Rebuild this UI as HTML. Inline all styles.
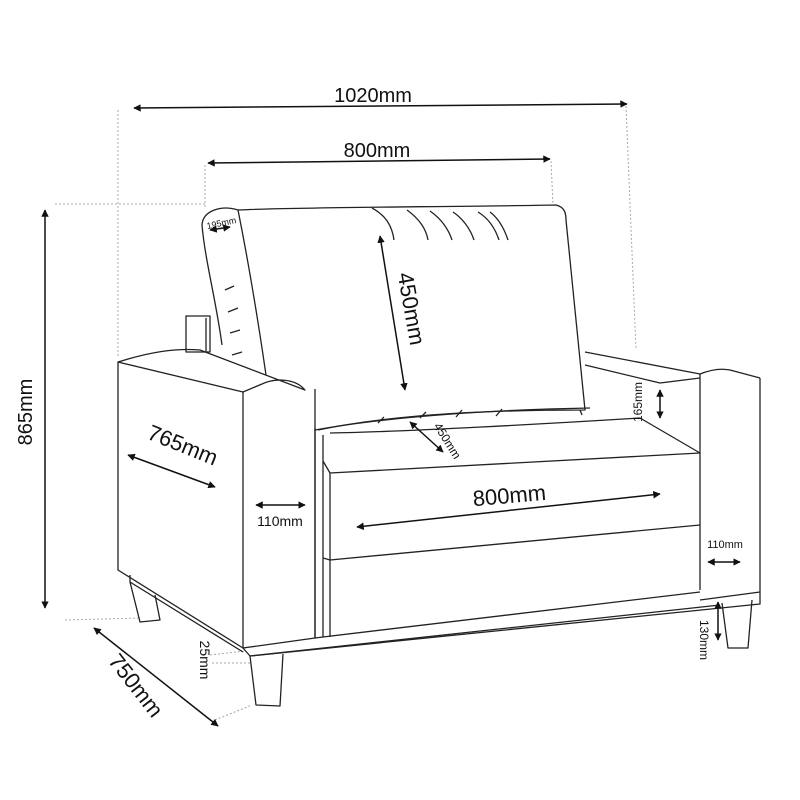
<!DOCTYPE html>
<html><head><meta charset="utf-8"><style>
html,body{margin:0;padding:0;background:#fff;}
svg{display:block}
text{font-family:"Liberation Sans",sans-serif;fill:#111}
</style></head><body>
<svg width="800" height="800" viewBox="0 0 800 800" xmlns="http://www.w3.org/2000/svg">
<defs>
<marker id="a" viewBox="0 0 10 10" refX="9" refY="5" markerWidth="5" markerHeight="5" orient="auto-start-reverse"><path d="M0,0 L10,5 L0,10 z" fill="#111"/></marker>
</defs>
<g fill="none" stroke="#aaa" stroke-width="1" stroke-dasharray="2,2">
<line x1="118" y1="110" x2="118" y2="358"/>
<line x1="626" y1="106" x2="636" y2="350"/>
<line x1="205" y1="165" x2="205" y2="208"/>
<line x1="551" y1="161" x2="553" y2="205"/>
<line x1="55" y1="204" x2="205" y2="204"/>
<line x1="65" y1="620" x2="140" y2="618"/>
<line x1="210" y1="655" x2="245" y2="651"/>
<line x1="212" y1="663" x2="250" y2="663"/>
<line x1="215" y1="720" x2="252" y2="705"/>
</g>
<g fill="none" stroke="#222" stroke-width="1.3" stroke-linejoin="round">
<path d="M222,345 C216,300 205,260 202,225 C203,210 222,205 238,210 C248,260 258,320 266,375"/>
<path d="M225,290 L234,286 M228,312 L238,308 M230,333 L240,330 M232,355 L242,352"/>
<rect x="186" y="316" width="24" height="36"/>
<line x1="206" y1="318" x2="206" y2="352"/>
<path d="M238,210 C300,207 450,207 556,205 C564,207 566,212 566,220 L585,410 C500,410 400,413 318,430"/>
<path d="M372,208 C385,215 392,225 394,240 M407,210 C418,218 426,228 428,240 M430,211 C440,218 448,228 452,240 M453,212 C462,218 470,228 474,240 M478,212 C488,218 495,228 499,240 M490,212 C498,218 504,228 508,240"/>
<path d="M384,417 L378,423 M426,412 L420,418 M462,410 L456,417 M502,409 L496,416 M580,410 L582,415"/>
<path d="M118,362 C150,352 175,348 200,350 L305,390 C295,378 275,378 262,384 L243,392 L118,362 Z"/>
<path d="M118,362 L118,570 L243,648"/>
<path d="M243,392 L243,648 L315,638 L315,389"/>
<path d="M315,430 C380,418 480,410 590,408"/>
<path d="M315,428 L315,638 L323,637 L323,435"/>
<path d="M323,461 L330,473 L700,453 M330,473 L330,560 L700,525"/>
<path d="M323,558 L330,560 M330,560 L330,637"/>
<path d="M330,433 C400,432 560,423 640,418 L700,453"/>
<path d="M585,352 L700,374 C710,370 720,368 730,370 L760,378 M585,365 L660,383 L700,378"/>
<path d="M700,374 L700,590 M760,378 L760,592 L700,600 M323,637 L700,592"/>
<path d="M243,648 L250,656 L760,604 L760,592 M130,575 L130,582 L243,652"/>
<path d="M250,656 L720,605"/>
<path d="M250,656 L256,705 L280,706 L283,654"/>
<path d="M130,582 L140,622 L160,620 L155,595"/>
<path d="M722,603 L728,648 L748,648 L752,600"/>
</g>
<g stroke="#111" stroke-width="1.5" fill="none" marker-start="url(#a)" marker-end="url(#a)">
<line x1="134" y1="108" x2="627" y2="104"/>
<line x1="208" y1="163" x2="550" y2="159"/>
<line x1="45" y1="210" x2="45" y2="608"/>
<line x1="380" y1="236" x2="405" y2="390"/>
<line x1="410" y1="422" x2="443" y2="452"/>
<line x1="128" y1="455" x2="215" y2="487"/>
<line x1="256" y1="505" x2="305" y2="505"/>
<line x1="357" y1="527" x2="660" y2="494"/>
<line x1="660" y1="390" x2="660" y2="418"/>
<line x1="708" y1="562" x2="740" y2="562"/>
<line x1="94" y1="628" x2="218" y2="726"/>
<line x1="718" y1="602" x2="718" y2="640"/>
<line x1="210" y1="230" x2="230" y2="227"/>
</g>
<g>
<text x="373" y="102" font-size="20" text-anchor="middle">1020mm</text>
<text x="377" y="157" font-size="20" text-anchor="middle">800mm</text>
<text transform="translate(32,412) rotate(-90)" font-size="20" text-anchor="middle">865mm</text>
<text transform="translate(404,310) rotate(80)" font-size="22" text-anchor="middle">450mm</text>
<text transform="translate(444,443) rotate(58)" font-size="12" text-anchor="middle">450mm</text>
<text transform="translate(180,452) rotate(22)" font-size="22" text-anchor="middle">765mm</text>
<text x="280" y="526" font-size="14" text-anchor="middle">110mm</text>
<text transform="translate(510,503) rotate(-5)" font-size="22" text-anchor="middle">800mm</text>
<text transform="translate(642,402) rotate(-90)" font-size="12" text-anchor="middle">165mm</text>
<text x="725" y="548" font-size="11" text-anchor="middle">110mm</text>
<text transform="translate(130,690) rotate(52)" font-size="22" text-anchor="middle">750mm</text>
<text transform="translate(200,660) rotate(90)" font-size="14" text-anchor="middle">25mm</text>
<text transform="translate(700,640) rotate(90)" font-size="12" text-anchor="middle">130mm</text>
<text transform="translate(222,226) rotate(-12)" font-size="9" text-anchor="middle">195mm</text>
</g>
</svg>
</body></html>
